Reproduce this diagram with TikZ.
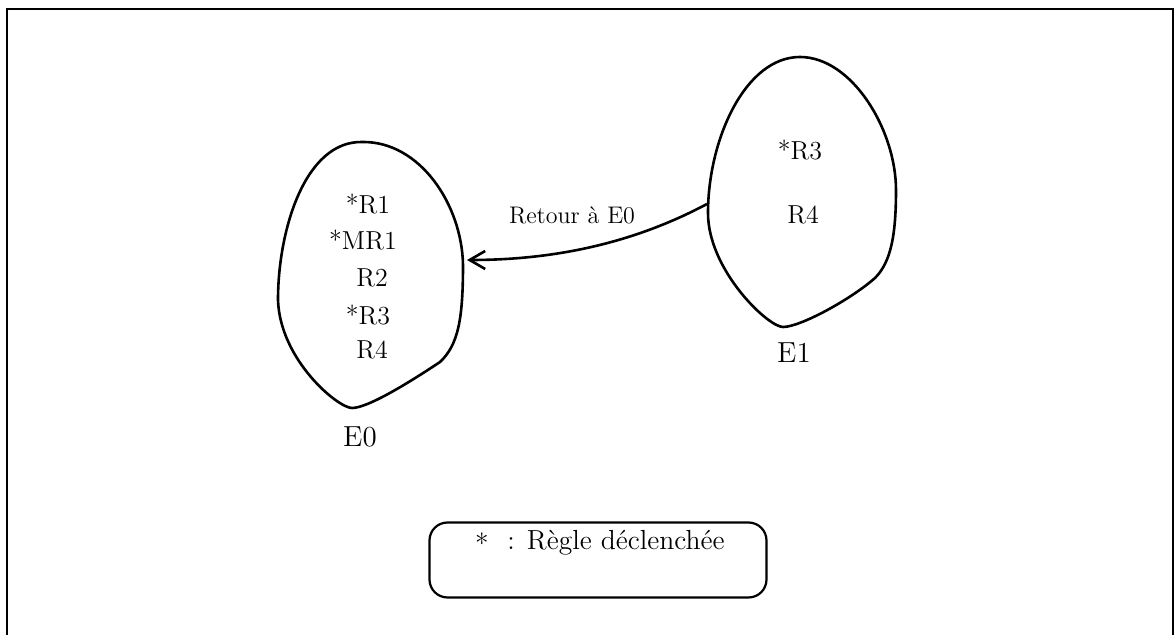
\documentclass[tikz,border=0pt]{standalone}
\usetikzlibrary{arrows.meta}
\begin{document}
\begin{tikzpicture}[x=0.5pt,y=-0.5pt,
  blobline/.style={line width=1.3pt,line join=round},
  frameline/.style={line width=0.8pt},
  blobtext/.style={inner sep=0pt,font=\fontsize{13}{15}\selectfont},
  statelabel/.style={inner sep=0pt,font=\fontsize{14.5}{17}\selectfont},
  arrowlabel/.style={inner sep=0pt,font=\fontsize{12}{14}\selectfont},
  legendtext/.style={inner sep=0pt,font=\fontsize{13.8}{16}\selectfont},
  legendbox/.style={draw,line width=1.1pt,rounded corners=9pt,minimum width=168.5pt,minimum height=37.5pt,inner sep=0pt},
  returnarrow/.style={line width=1.3pt,-{Straight Barb[angle=60:9pt,line width=1.3pt]}}]
\useasboundingbox (0,0) rectangle (1175,635);
% frame
\draw[frameline] (7,635) -- (7,9) -- (1173,9) -- (1173,635);
% left blob E0
\draw[blobline] (362,142) .. controls (420,141) and (462,205) .. (463,265)
  .. controls (463,320) and (458,345) .. (440,362)
  .. controls (410,382) and (368,408) .. (352,408)
  .. controls (338,408) and (280,360) .. (278,300)
  .. controls (278,230) and (305,141) .. cycle;
% right blob E1
\draw[blobline] (800,57) .. controls (852,57) and (896,130) .. (896,190)
  .. controls (896,235) and (891,262) .. (875,278)
  .. controls (850,300) and (800,327) .. (783,327)
  .. controls (768,327) and (708,270) .. (708,213)
  .. controls (708,140) and (745,57) .. cycle;
% texts E0
\node[blobtext] (r1) at (368,204) {*R1};
\node[blobtext] (mr1) at (363,240) {*MR1};
\node[blobtext] (r2) at (372,278) {R2};
\node[blobtext] (r3a) at (368,315) {*R3};
\node[blobtext] (r4a) at (372,350) {R4};
\node[statelabel] (e0) at (360,437) {E0};
% texts E1
\node[blobtext] (r3b) at (800,150) {*R3};
\node[blobtext] (r4b) at (803,215) {R4};
\node[statelabel] (e1) at (794,353) {E1};
% arrow
\coordinate (e1w) at (707,204);
\coordinate (e0e) at (467,260);
\draw[returnarrow] (e1w) .. controls (630,245) and (550,260) .. (e0e);
\node[arrowlabel] (lab) at (572,215) {Retour à E0};
% legend
\node[legendbox] (leg) at (598,560) {};
\node[legendtext] (star) at (482,543) {*};
\node[legendtext,anchor=west] (legtxt) at (507,543) {: Règle déclenchée};
\end{tikzpicture}
\end{document}
